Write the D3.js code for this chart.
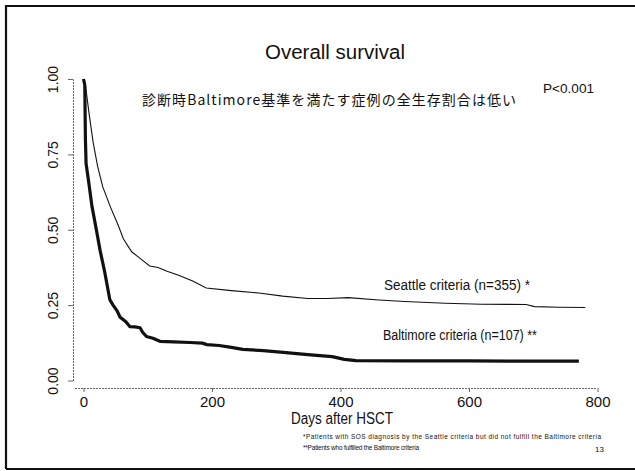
<!DOCTYPE html>
<meta charset="utf-8">
<script src="https://d3js.org/d3.v7.min.js"></script>
<style>
  body { margin: 0; background: #fff; }
  text { font-family: "Liberation Sans", Arial, sans-serif; fill: #111; }
</style>
<div id="my_dataviz"></div>
<script>

// Kaplan-Meier curves (days, survival)
var seattleDays = [0, 3, 9, 15, 22, 30, 42, 54, 62, 75, 88, 103, 116, 130, 147, 170, 191, 230, 273, 310, 349, 380, 412, 460, 500, 563, 620, 689, 702, 740, 781];
var seattleSurv = [1.00, 0.98, 0.88, 0.79, 0.71, 0.642, 0.575, 0.515, 0.47, 0.427, 0.405, 0.38, 0.375, 0.362, 0.35, 0.33, 0.307, 0.298, 0.29, 0.28, 0.272, 0.272, 0.275, 0.267, 0.262, 0.256, 0.253, 0.252, 0.245, 0.243, 0.242];

var baltDays = [0, 2, 3, 4, 8, 13, 20, 26, 33, 41, 46, 52, 57, 66, 72, 80, 88, 92, 98, 108, 119, 140, 166, 185, 192, 211, 230, 248, 280, 311, 349, 387, 406, 424, 500, 600, 700, 771];
var baltSurv = [1.00, 0.98, 0.80, 0.72, 0.66, 0.58, 0.50, 0.43, 0.36, 0.268, 0.25, 0.232, 0.21, 0.195, 0.179, 0.178, 0.175, 0.16, 0.146, 0.14, 0.13, 0.128, 0.126, 0.124, 0.119, 0.116, 0.11, 0.103, 0.099, 0.093, 0.086, 0.079, 0.07, 0.066, 0.065, 0.065, 0.064, 0.064];

var xTicks = [0, 200, 400, 600, 800];
var yTicks = [0, 0.25, 0.5, 0.75, 1];

var W = 635, H = 471;

var svg = d3.select("#my_dataviz")
  .append("svg")
    .attr("width", W)
    .attr("height", H);

// slide frame (left, top, bottom edges)
svg.append("path")
  .attr("d", "M6,469 L6,6 L635,6 M6,469 L635,469")
  .attr("fill", "none")
  .attr("stroke", "#111")
  .attr("stroke-width", 2.2);

var x = d3.scaleLinear().domain([0, 800]).range([83.5, 597.5]);
var y = d3.scaleLinear().domain([0, 1]).range([380.5, 79]);

var axisColor = "#666";

// Y axis, base-R style (offset from plot)
var yAxis = svg.append("g")
  .attr("transform", "translate(73,0)")
  .call(d3.axisLeft(y).tickValues(yTicks).tickFormat(d3.format(".2f")).tickSize(5).tickSizeOuter(0));
yAxis.select(".domain").attr("stroke", axisColor).attr("stroke-dasharray", "2,1");
yAxis.selectAll(".tick line").attr("stroke", axisColor);
yAxis.selectAll(".tick text")
  .attr("transform", "rotate(-90)")
  .attr("x", 0)
  .attr("y", -15)
  .attr("dy", 0)
  .style("text-anchor", "middle")
  .style("font-size", "14px")
  .style("font-family", "'Liberation Sans', Arial, sans-serif")
  .attr("fill", "#111");

// X axis
var xAxis = svg.append("g")
  .attr("transform", "translate(0,388)")
  .call(d3.axisBottom(x).tickValues(xTicks).tickSize(4).tickSizeOuter(0));
xAxis.select(".domain").attr("stroke", axisColor).attr("stroke-dasharray", "2,1")
  .attr("d", "M75,0.5H596");
xAxis.selectAll(".tick line").attr("stroke", axisColor);
xAxis.selectAll(".tick text")
  .attr("y", 8)
  .style("font-size", "15px")
  .style("font-family", "'Liberation Sans', Arial, sans-serif")
  .attr("fill", "#111");

svg.append("text")
  .attr("x", 342).attr("y", 424)
  .style("text-anchor", "middle")
  .style("font-size", "16px")
  .attr("textLength", 102)
  .attr("lengthAdjust", "spacingAndGlyphs")
  .text("Days after HSCT");

// curves
var line = d3.line()
  .x(function(d) { return x(d[0]); })
  .y(function(d) { return y(d[1]); });

svg.append("path")
  .datum(d3.zip(seattleDays, seattleSurv))
  .attr("d", line)
  .attr("fill", "none")
  .attr("stroke", "#111")
  .attr("stroke-width", 1.1);

svg.append("path")
  .datum(d3.zip(baltDays, baltSurv))
  .attr("d", line)
  .attr("fill", "none")
  .attr("stroke", "#111")
  .attr("stroke-width", 3.2)
  .attr("stroke-linejoin", "round");

// titles and labels
svg.append("text")
  .attr("x", 335).attr("y", 59)
  .style("text-anchor", "middle")
  .style("font-size", "20px")
  .attr("textLength", 140)
  .attr("lengthAdjust", "spacingAndGlyphs")
  .text("Overall survival");

svg.append("text")
  .attr("x", 142).attr("y", 105)
  .style("font-family", "'Noto Sans CJK JP', sans-serif")
  .style("font-size", "14px")
  .attr("textLength", 374)
  .text("診断時Baltimore基準を満たす症例の全生存割合は低い");

svg.append("text")
  .attr("x", 543).attr("y", 93)
  .style("font-size", "13px")
  .attr("textLength", 51)
  .attr("lengthAdjust", "spacingAndGlyphs")
  .text("P<0.001");

svg.append("text")
  .attr("x", 384).attr("y", 290)
  .style("font-size", "14px")
  .attr("textLength", 146)
  .attr("lengthAdjust", "spacingAndGlyphs")
  .text("Seattle criteria (n=355) *");

svg.append("text")
  .attr("x", 383).attr("y", 340)
  .style("font-size", "14px")
  .attr("textLength", 154)
  .attr("lengthAdjust", "spacingAndGlyphs")
  .text("Baltimore criteria (n=107) **");

// footnotes
svg.append("text")
  .attr("x", 303).attr("y", 439)
  .style("font-size", "6.5px")
  .attr("textLength", 298)
  .text("*Patients with SOS diagnosis by the Seattle criteria but did not fulfill the Baltimore criteria");

svg.append("text")
  .attr("x", 303).attr("y", 450)
  .style("font-size", "6.5px")
  .attr("textLength", 116)
  .text("**Patients who fulfilled the Baltimore criteria");

svg.append("text")
  .attr("x", 595).attr("y", 452)
  .style("font-size", "8px")
  .text("13");

</script>
